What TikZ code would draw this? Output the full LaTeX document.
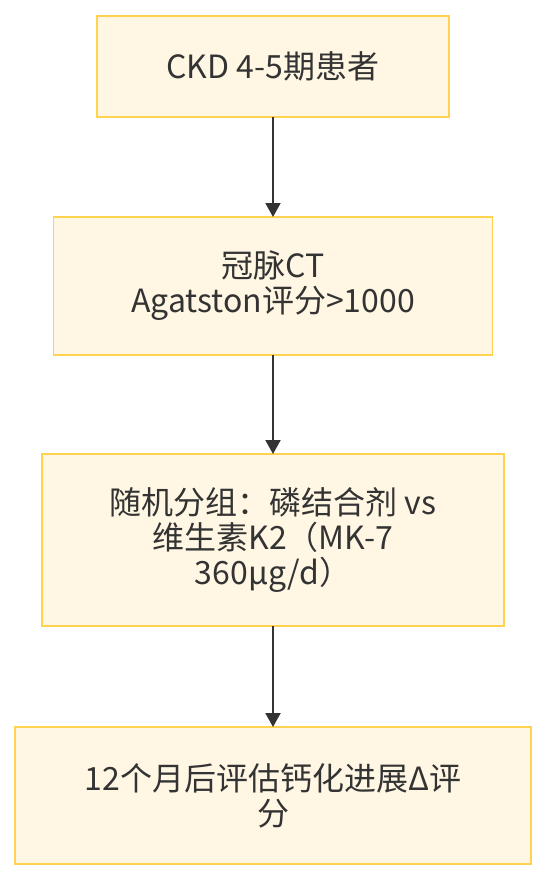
\documentclass[tikz,border=0pt]{standalone}
\usepackage{fontspec}
\setmainfont{Noto Sans CJK SC}
\usetikzlibrary{arrows.meta,positioning}
\definecolor{boxfill}{HTML}{FFF7E4}
\definecolor{boxline}{HTML}{FFD34F}
\definecolor{ink}{HTML}{333333}
\tikzset{
    stepbox/.style={draw=boxline, fill=boxfill, line width=1.6pt, align=center, inner sep=0pt, outer sep=0pt,
        text=ink, font=\fontsize{32}{35}\selectfont},
    flow/.style={draw=ink, line width=2pt, -{Triangle[length=14pt, width=15pt]}}
}
\begin{document}
\begin{tikzpicture}[x=1pt, y=1pt]
    \useasboundingbox (0,0) rectangle (546,-880);
    \node[stepbox, minimum width=352pt, minimum height=101pt] (ckd) at (273,-66.5) {CKD 4-5期患者};
    \node[stepbox, minimum width=439pt, minimum height=138pt, below=100pt of ckd] (ct) {冠脉CT\\Agatston评分>1000};
    \node[stepbox, minimum width=462pt, minimum height=172pt, below=99pt of ct] (rand) {随机分组：磷结合剂 vs\\维生素K2（MK-7\\360μg/d）};
    \node[stepbox, minimum width=516pt, minimum height=137pt, below=101pt of rand] (eval) {12个月后评估钙化进展Δ评\\分};
    \draw[flow] (ckd) -- (ct);
    \draw[flow] (ct) -- (rand);
    \draw[flow] (rand) -- (eval);
\end{tikzpicture}
\end{document}
